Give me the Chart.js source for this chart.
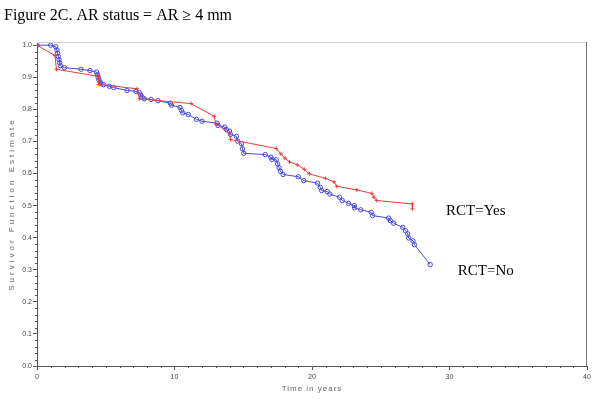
<!DOCTYPE html>
<html>
<head>
<meta charset="utf-8">
<script src="https://cdn.jsdelivr.net/npm/chart.js@4"></script>
<style>
  html, body { margin: 0; padding: 0; background: #fff; }
</style>
</head>
<body>
<canvas id="kmChart" width="600" height="407"></canvas>
<script>
"use strict"

// Kaplan-Meier estimates
const yesTimes = [0, 1.31, 1.41, 4.47, 4.5, 7.28, 7.45, 11.2, 12.9, 13.0, 14.0, 14.07, 17.4, 17.74, 18.03, 18.37, 18.93, 19.44, 19.8, 20.97, 21.6, 21.8, 23.26, 24.35, 24.5, 24.7, 27.3, 27.3]
const yesSurv = [1.0, 0.968, 0.925, 0.903, 0.878, 0.864, 0.833, 0.818, 0.778, 0.755, 0.726, 0.706, 0.678, 0.661, 0.648, 0.636, 0.627, 0.613, 0.599, 0.585, 0.574, 0.56, 0.549, 0.538, 0.526, 0.516, 0.505, 0.49]

const noTimes = [0, 1.0, 1.36, 1.45, 1.5, 1.55, 1.6, 1.65, 1.7, 2.0, 3.2, 3.85, 4.33, 4.4, 4.45, 4.5, 4.6, 4.65, 4.84, 5.26, 5.57, 6.55, 7.2, 7.45, 7.55, 7.65, 7.8, 8.3, 8.8, 9.7, 9.78, 10.4, 10.5, 10.6, 11.0, 11.6, 12.0, 13.1, 13.16, 13.65, 13.77, 14.0, 14.07, 14.5, 14.6, 14.87, 14.94, 15.04, 16.6, 17.0, 17.1, 17.4, 17.5, 17.6, 17.7, 17.9, 19.0, 19.4, 20.4, 20.6, 20.7, 21.1, 21.3, 22.0, 22.2, 22.65, 23.07, 23.1, 23.55, 24.3, 24.4, 25.57, 25.7, 25.94, 26.6, 26.8, 26.96, 27.03, 27.35, 27.45, 28.6]
const noSurv = [1.0, 1.0, 0.995, 0.985, 0.975, 0.965, 0.955, 0.945, 0.936, 0.93, 0.925, 0.921, 0.916, 0.908, 0.9, 0.892, 0.885, 0.88, 0.877, 0.872, 0.868, 0.859, 0.856, 0.852, 0.845, 0.838, 0.833, 0.831, 0.827, 0.819, 0.813, 0.806, 0.797, 0.789, 0.784, 0.769, 0.763, 0.757, 0.75, 0.745, 0.737, 0.732, 0.722, 0.716, 0.701, 0.693, 0.677, 0.663, 0.659, 0.651, 0.644, 0.643, 0.63, 0.618, 0.607, 0.597, 0.59, 0.578, 0.57, 0.557, 0.547, 0.544, 0.536, 0.526, 0.516, 0.507, 0.5, 0.493, 0.487, 0.479, 0.469, 0.461, 0.453, 0.445, 0.432, 0.422, 0.412, 0.399, 0.39, 0.378, 0.316]

const xTicks = [0, 10, 20, 30, 40]
const yTicks = [0, 0.1, 0.2, 0.3, 0.4, 0.5, 0.6, 0.7, 0.8, 0.9, 1.0]

const figureTitle = "Figure 2C. AR status = AR \u2265 4 mm"
const xTitle = "Time in years"
const yTitle = "Survivor Function Estimate"

// curve labels: text, anchor time, anchor survival
const curveLabels = ["RCT=Yes", "RCT=No"]
const curveLabelX = [29.75, 30.6]
const curveLabelY = [0.47, 0.283]

const RED = "#ee3b3b"
const BLUE = "#4646e2"
const AXIS = "#555"

function toPoints(xs, ys) {
    return xs.map((x, i) => ({ x: x, y: ys[i] }))
}

const decorations = {
    id: 'decorations',
    afterDraw(chart) {
        const { ctx, chartArea } = chart
        const xs = chart.scales.x
        const ys = chart.scales.y
        ctx.save()

        // frame: light top, darker right
        ctx.lineWidth = 1
        ctx.strokeStyle = "#cfcfcf"
        ctx.beginPath()
        ctx.moveTo(chartArea.left, Math.round(chartArea.top) + 0.5)
        ctx.lineTo(chartArea.right, Math.round(chartArea.top) + 0.5)
        ctx.stroke()
        ctx.strokeStyle = "#777"
        ctx.beginPath()
        ctx.moveTo(Math.round(chartArea.right) - 0.5, chartArea.top)
        ctx.lineTo(Math.round(chartArea.right) - 0.5, chartArea.bottom)
        ctx.stroke()

        // minor ticks
        ctx.strokeStyle = AXIS
        ctx.beginPath()
        for (let t = 1; t < 40; t++) {
            if (t % 10 === 0) continue
            const px = Math.round(xs.getPixelForValue(t)) + 0.5
            ctx.moveTo(px, chartArea.bottom)
            ctx.lineTo(px, chartArea.bottom + 2)
        }
        for (let k = 1; k < 50; k++) {
            if (k % 5 === 0) continue
            const py = Math.round(ys.getPixelForValue(k * 0.02)) + 0.5
            ctx.moveTo(chartArea.left, py)
            ctx.lineTo(chartArea.left - 2, py)
        }
        ctx.stroke()

        // figure title
        ctx.fillStyle = "#000"
        ctx.font = '16px "Liberation Serif"'
        ctx.textBaseline = "alphabetic"
        ctx.textAlign = "left"
        ctx.fillText(figureTitle, 4, 20)

        // curve labels
        ctx.font = '15px "Liberation Serif"'
        curveLabels.forEach((txt, i) => {
            ctx.fillText(txt, xs.getPixelForValue(curveLabelX[i]), ys.getPixelForValue(curveLabelY[i]))
        })

        // axis titles, spaced out like the SAS output
        ctx.fillStyle = "#666"
        ctx.font = '8px "Liberation Sans"'
        ctx.textAlign = "center"
        ctx.textBaseline = "middle"
        ctx.letterSpacing = "1px"
        ctx.fillText(xTitle, (chartArea.left + chartArea.right) / 2, 389)

        ctx.letterSpacing = "3px"
        ctx.translate(12, (chartArea.top + chartArea.bottom) / 2)
        ctx.rotate(-Math.PI / 2)
        ctx.fillText(yTitle, 0, 0)
        ctx.restore()
    }
}

const tickFont = { family: "Liberation Sans", size: 7 }

const chart = new Chart(document.getElementById('kmChart').getContext('2d'), {
    type: 'line',
    data: {
        datasets: [
            {
                label: "RCT=Yes",
                data: toPoints(yesTimes, yesSurv),
                borderColor: RED,
                backgroundColor: RED,
                borderWidth: 1,
                tension: 0,
                fill: false,
                pointStyle: 'cross',
                pointRadius: 2,
                pointBorderWidth: 1,
            },
            {
                label: "RCT=No",
                data: toPoints(noTimes, noSurv),
                borderColor: BLUE,
                backgroundColor: "rgba(0,0,0,0)",
                borderWidth: 1,
                tension: 0,
                fill: false,
                pointStyle: 'circle',
                pointRadius: 2.2,
                pointBorderWidth: 1,
            },
        ]
    },
    options: {
        responsive: false,
        animation: false,
        devicePixelRatio: 1,
        layout: { padding: { top: 42, right: 13, left: 0, bottom: 0 } },
        plugins: {
            legend: { display: false },
            tooltip: { enabled: false },
        },
        scales: {
            x: {
                type: 'linear',
                min: 0,
                max: 40,
                afterBuildTicks: scale => { scale.ticks = xTicks.map(v => ({ value: v })) },
                afterFit: scale => { scale.height = 41 },
                grid: { drawOnChartArea: false, drawTicks: true, tickLength: 4, color: AXIS },
                border: { color: AXIS },
                ticks: { font: tickFont, color: "#444", padding: 3, maxRotation: 0, callback: v => String(v) },
            },
            y: {
                type: 'linear',
                min: 0,
                max: 1.01,
                afterBuildTicks: scale => { scale.ticks = yTicks.map(v => ({ value: v })) },
                afterFit: scale => { scale.width = 37 },
                grid: { drawOnChartArea: false, drawTicks: true, tickLength: 4, color: AXIS },
                border: { color: AXIS },
                ticks: { font: tickFont, color: "#444", padding: 1, callback: v => v.toFixed(1) },
            },
        },
    },
    plugins: [decorations],
})
</script>
</body>
</html>
